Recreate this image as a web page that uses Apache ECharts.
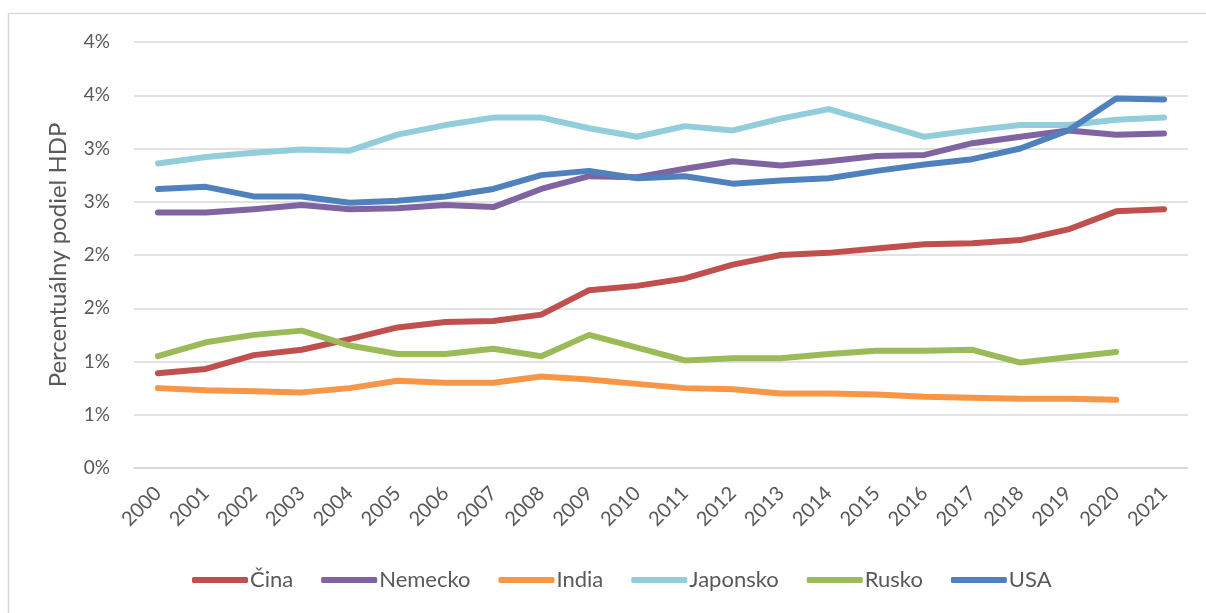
<!DOCTYPE html>
<html><head><meta charset="utf-8">
<script src="https://cdn.jsdelivr.net/npm/echarts@6/dist/echarts.min.js"></script>
<style>html,body{margin:0;padding:0;background:#fff}#c{width:1206px;height:613px}</style>
</head><body><div id="c"></div>
<script>
const years = ['2000','2001','2002','2003','2004','2005','2006','2007','2008','2009','2010','2011','2012','2013','2014','2015','2016','2017','2018','2019','2020','2021'];
const cina     = [0.89, 0.93, 1.06, 1.11, 1.21, 1.32, 1.37, 1.38, 1.44, 1.67, 1.71, 1.78, 1.91, 2.00, 2.02, 2.06, 2.10, 2.11, 2.14, 2.24, 2.41, 2.43];
const nemecko  = [2.40, 2.40, 2.43, 2.47, 2.43, 2.44, 2.47, 2.45, 2.62, 2.74, 2.73, 2.81, 2.88, 2.84, 2.88, 2.93, 2.94, 3.05, 3.11, 3.17, 3.13, 3.14];
const india    = [0.75, 0.73, 0.72, 0.71, 0.75, 0.82, 0.80, 0.80, 0.86, 0.83, 0.79, 0.75, 0.74, 0.70, 0.70, 0.69, 0.67, 0.66, 0.65, 0.65, 0.64, null];
const japonsko = [2.86, 2.92, 2.96, 2.99, 2.98, 3.13, 3.22, 3.29, 3.29, 3.19, 3.11, 3.21, 3.17, 3.28, 3.37, 3.24, 3.11, 3.17, 3.22, 3.22, 3.27, 3.29];
const rusko    = [1.05, 1.18, 1.25, 1.29, 1.15, 1.07, 1.07, 1.12, 1.05, 1.25, 1.13, 1.01, 1.03, 1.03, 1.07, 1.10, 1.10, 1.11, 0.99, 1.04, 1.09, null];
const usa      = [2.62, 2.64, 2.55, 2.55, 2.49, 2.51, 2.55, 2.62, 2.75, 2.79, 2.72, 2.74, 2.67, 2.70, 2.72, 2.79, 2.85, 2.90, 3.00, 3.17, 3.47, 3.46];
const seriesNames = ['Čina','Nemecko','India','Japonsko','Rusko','USA'];
const seriesData = [cina, nemecko, india, japonsko, rusko, usa];
const colors = ['#C0504D','#8064A2','#F79646','#92CDDC','#9BBB59','#4F81BD'];

const FONT = 'Lato';
const TXT = '#595959';
const chart = echarts.init(document.getElementById('c'), null, {renderer:'canvas'});
chart.setOption({
  animation:false,
  backgroundColor:'#fff',
  color: colors,
  graphic:[{type:'rect', shape:{x:8.5,y:13.5,width:1220,height:620}, style:{fill:'none', stroke:'#D9D9D9', lineWidth:1.5}, silent:true}],
  grid:{left:134, right:18, top:42, bottom:145, containLabel:false},
  legend:{
    left:187, top:564, itemWidth:56, itemHeight:6, itemGap:28, icon:'roundRect',
    textStyle:{fontFamily:FONT, fontSize:22, color:TXT, padding:[0,0,0,-3]},
    data: seriesNames
  },
  xAxis:{
    type:'category', data:years, boundaryGap:true,
    axisLine:{show:true, lineStyle:{color:'#D9D9D9', width:1.5}},
    axisTick:{show:false},
    axisLabel:{rotate:45, margin:22, fontFamily:FONT, fontSize:20, color:TXT, interval:0}
  },
  yAxis:{
    type:'value', min:0, max:4, interval:0.5,
    name:'Percentuálny podiel HDP', nameLocation:'middle', nameGap:64, nameRotate:90,
    nameTextStyle:{fontFamily:FONT, fontSize:24, color:TXT},
    axisLine:{show:false}, axisTick:{show:false},
    splitLine:{lineStyle:{color:'#D9D9D9', width:1.5}},
    axisLabel:{margin:24, fontFamily:FONT, fontSize:19, color:TXT, formatter:v=>Math.round(v)+'%'}
  },
  series: seriesNames.map((n,i)=>({
    name:n, type:'line', data:seriesData[i], showSymbol:false, symbol:'none',
    lineStyle:{width:6, color:colors[i], cap:'round', join:'round'},
    itemStyle:{color:colors[i]}
  }))
});
</script></body></html>
